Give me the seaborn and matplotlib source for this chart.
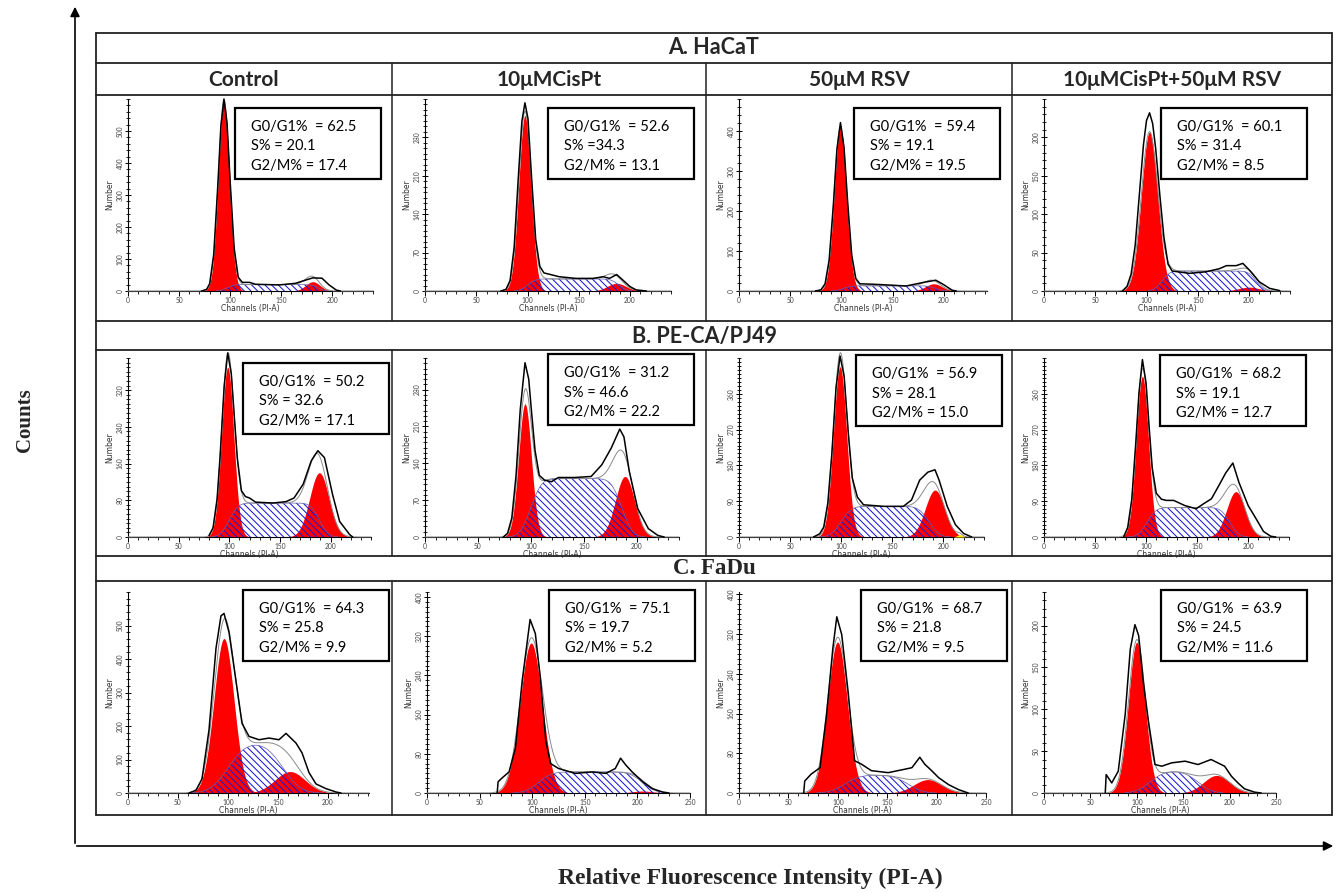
import math
import numpy as np
import matplotlib
matplotlib.use("Agg")
import matplotlib.pyplot as plt
from matplotlib.patches import Rectangle, FancyArrowPatch
from matplotlib.lines import Line2D
from matplotlib.ticker import MultipleLocator
import seaborn as sns

sns.set_theme(style="white")
plt.rcParams['font.family'] = ['Lato', 'DejaVu Sans']
plt.rcParams['hatch.linewidth'] = 0.75

W, H = 1339, 893

# ---------------- text content ----------------
ROW_TITLES = ["A. HaCaT", "B. PE-CA/PJ49", "C. FaDu"]
COL_TITLES = ["Control", "10\u03bcMCisPt", "50\u03bcM RSV", "10\u03bcMCisPt+50\u03bcM RSV"]
G0G1 = [62.5, 52.6, 59.4, 60.1, 50.2, 31.2, 56.9, 68.2, 64.3, 75.1, 68.7, 63.9]
S_PHASE = [20.1, 34.3, 19.1, 31.4, 32.6, 46.6, 28.1, 19.1, 25.8, 19.7, 21.8, 24.5]
S_SEP = [" = ", " =", " = ", " = ", " = ", " = ", " = ", " = ", " = ", " = ", " = ", " = "]
G2M = [17.4, 13.1, 19.5, 8.5, 17.1, 22.2, 15.0, 12.7, 9.9, 5.2, 9.5, 11.6]

# ---------------- ModFit components ----------------
G1_CENTER = [94, 97.5, 99, 103, 98.5, 94.5, 99, 96.4, 96, 99, 99.7, 100]
G1_HEIGHT = [592, 320, 408, 207, 370, 253, 428, 404, 461, 306, 304, 180]
G1_SIGMA = [5.5, 6, 6, 8, 6, 6, 6.5, 6, 10, 10.5, 10, 9]
S_HEIGHT = [20, 22, 13, 26, 74, 111, 77, 74, 150, 43, 36, 26]
S_START = [97, 100, 102, 115, 100, 100, 100, 101, 100, 106, 107, 114]
S_END = [186, 189, 192, 207, 189, 186, 186, 182, 155, 205, 171, 166]
S_EDGE = [5, 6, 6, 6, 7, 8, 8, 7, 14, 10, 12, 12]
G2_CENTER = [181, 187, 190, 200, 189, 189, 192, 188, 162, 205, 191, 186]
G2_HEIGHT = [29, 14, 18, 5, 140, 115, 118, 114, 64, 4, 27, 21]
G2_SIGMA = [7, 9, 8, 10, 9.5, 9, 9.5, 9, 15, 10, 14, 14]
AGG_CENTER = [0, 0, 0, 0, 0, 0, 216, 0, 0, 0, 0, 0]
AGG_HEIGHT = [0, 0, 0, 0, 0, 0, 6, 0, 0, 0, 0, 0]

# ---------------- measured histograms (channel, count) ----------------
DATA_X_A1 = [72, 77, 80, 84, 88, 91, 94, 97, 100, 104, 108, 112, 119, 125, 148, 164, 174, 181, 190, 197, 204, 208]
DATA_Y_A1 = [0, 5, 23, 115, 331, 516, 600, 526, 346, 134, 43, 27, 27, 21, 19, 24, 34, 41, 40, 19, 3, 0]
DATA_X_A2 = [74, 79, 83, 87, 91, 94.5, 97.5, 100.5, 104, 108, 112, 116, 131, 147, 164, 174, 180, 187, 193, 200, 206, 216]
DATA_Y_A2 = [0, 3, 19, 80, 206, 309, 343, 314, 206, 94, 45, 33, 26, 23, 23, 26, 23, 30, 20, 8, 2, 0]
DATA_X_A3 = [74.5, 80, 84, 88, 92, 95.5, 99, 102.5, 106, 110, 114, 118, 130, 146, 163, 179, 192, 199, 208, 212]
DATA_Y_A3 = [0, 3, 18, 78, 213, 353, 421, 359, 223, 90, 31, 18, 17, 15, 12.5, 21, 27, 17, 2, 0]
DATA_X_A4 = [76.5, 81, 85, 89, 93, 97, 100, 103, 106, 109, 113, 117, 121, 125, 142, 158, 171, 178, 187.5, 194, 200.5, 210, 220, 230]
DATA_Y_A4 = [0, 6, 22, 60, 125, 190, 222, 232, 218, 185, 125, 70, 35, 26, 23, 25, 29, 33, 33, 36, 27, 12, 3.5, 0.5]
DATA_X_B1 = [80, 84, 88, 91, 95, 98.5, 102, 105, 108, 112, 116, 120, 126, 143, 156, 164, 173, 181, 187.5, 194, 202, 209, 219, 222]
DATA_Y_B1 = [3, 20, 83, 177, 329, 401, 356, 262, 171, 101, 88, 85, 76, 74, 77, 85, 115, 166, 188, 173, 93, 34, 5, 0]
DATA_X_B2 = [74, 78, 82, 86, 90, 94.5, 98, 101, 104, 108, 113, 119.5, 126, 141.5, 157, 167, 176, 184, 188, 193, 201, 211, 220, 226]
DATA_Y_B2 = [0, 7, 36, 116, 242, 331, 300, 230, 164, 117, 108, 105, 113, 113, 115, 137, 169, 205, 190, 125, 54, 16, 3, 0]
DATA_X_B3 = [73, 79, 83, 87, 91, 95, 99, 103, 107, 111, 116, 122, 142, 161, 169, 177, 185, 192, 196, 204, 212, 220, 228]
DATA_Y_B3 = [0, 8, 25, 85, 211, 374, 455, 404, 263, 148, 100, 81, 77, 77, 93, 143, 163, 169, 143, 77, 31, 9, 0]
DATA_X_B4 = [78, 82, 86, 90, 93, 96.4, 100, 103, 106, 110, 115, 120, 127, 138, 149, 156, 164, 171, 178, 185, 191, 200, 207.5, 215, 222, 227]
DATA_Y_B4 = [0, 24, 95, 240, 361, 446, 387, 276, 174, 110, 95, 92, 92, 79, 71, 83, 96, 128, 161, 186, 137, 79, 47, 14, 2, 0]
DATA_X_C1 = [61, 68, 74, 81, 88, 93, 96, 101, 108, 114, 121, 131, 141, 151, 158, 168, 174, 181, 188, 198, 208, 213]
DATA_Y_C1 = [0, 8, 42, 188, 432, 529, 536, 480, 334, 208, 169, 159, 164, 159, 178, 149, 120, 61, 27, 13, 3, 0]
DATA_X_C2 = [66.7, 67.6, 71, 78, 84, 90.5, 95, 98, 103, 108, 113, 117.5, 125, 141, 157, 170, 179, 184, 189, 195, 205, 214, 224, 230]
DATA_Y_C2 = [0, 23, 30, 43, 91, 229, 304, 354, 325, 229, 105, 60, 50, 40, 43, 40, 50, 71, 57, 43, 23, 9, 2, 0]
DATA_X_C3 = [65.5, 66.5, 73, 82, 88.5, 95, 99, 104, 110.5, 117, 124, 134, 151, 168, 175, 183, 188, 195, 202, 212, 222, 232]
DATA_Y_C3 = [0, 24, 38, 51, 155, 292, 355, 319, 203, 65, 58, 45, 41, 48, 51, 72, 58, 45, 31, 17, 7, 0]
DATA_X_C4 = [66, 67, 73, 80, 87.5, 93, 98, 102, 107, 112.5, 119.6, 127, 137.5, 152, 166, 180, 194.6, 202, 209, 216, 227, 234]
DATA_Y_C4 = [0, 22, 12, 26, 94, 172, 201, 188, 133, 86, 34, 32, 36, 38, 34, 40, 32, 20, 12, 5, 1, 0]

DATA_X = [DATA_X_A1, DATA_X_A2, DATA_X_A3, DATA_X_A4, DATA_X_B1, DATA_X_B2,
          DATA_X_B3, DATA_X_B4, DATA_X_C1, DATA_X_C2, DATA_X_C3, DATA_X_C4]
DATA_Y = [DATA_Y_A1, DATA_Y_A2, DATA_Y_A3, DATA_Y_A4, DATA_Y_B1, DATA_Y_B2,
          DATA_Y_B3, DATA_Y_B4, DATA_Y_C1, DATA_Y_C2, DATA_Y_C3, DATA_Y_C4]

# ---------------- axis scales ----------------
X_MAX = [240, 240, 242, 240, 240, 240, 240, 240, 241, 250, 250, 250]
Y_MAX = [600, 350, 480, 250, 390, 340, 450, 450, 600, 410, 405, 240]
Y_STEP = [100, 70, 100, 50, 80, 70, 90, 90, 100, 80, 80, 50]
Y_MINOR = [20, 10, 20, 10, 10, 10, 10, 10, 20, 10, 10, 10]

# ---------------- layout (pixels) ----------------
AX_LEFT = [128, 425, 739, 1044, 128, 425, 739, 1044, 128, 427, 739, 1044]
AX_WIDTH = [245, 246, 248, 246, 243, 254, 245, 245, 241, 263, 247, 232]
ROW_AXIS_Y = [291, 537, 793]
ROW_TOP_Y = [99, 358, 592]
BOX_L = [235, 548, 854, 1161, 243, 548, 856, 1160, 243, 549, 861, 1161]
BOX_T = [108, 108, 108, 108, 363, 354, 355, 355, 590, 590, 590, 590]
BOX_W = 146
BOX_H = 71

RED = "#ff0000"
BLUE = "#1a1ad6"
HATCH = "\\\\\\\\\\"

_erf = np.vectorize(math.erf)


def gauss(x, c, h, s):
    return h * np.exp(-0.5 * ((x - c) / s) ** 2)


def plateau(x, h, a, b, e):
    return h * 0.5 * (_erf((x - a) / (math.sqrt(2) * e)) - _erf((x - b) / (math.sqrt(2) * e)))


def fx(x):
    return x / W


def fy(y):
    return 1 - y / H


fig = plt.figure(figsize=(W / 100, H / 100), dpi=100)
fig.patch.set_facecolor("white")

# ---------------- panels ----------------
for i in range(12):
    r, c = divmod(i, 4)
    bottom = ROW_AXIS_Y[r]
    top = ROW_TOP_Y[r]
    ax = fig.add_axes([fx(AX_LEFT[i]), fy(bottom), AX_WIDTH[i] / W, (bottom - top) / H])
    ax.set_facecolor("none")
    xs = np.linspace(0, X_MAX[i], 900)
    g1 = gauss(xs, G1_CENTER[i], G1_HEIGHT[i], G1_SIGMA[i])
    g2 = gauss(xs, G2_CENTER[i], G2_HEIGHT[i], G2_SIGMA[i])
    s = plateau(xs, S_HEIGHT[i], S_START[i], S_END[i], S_EDGE[i])
    agg = gauss(xs, AGG_CENTER[i], AGG_HEIGHT[i], 2.5) if AGG_HEIGHT[i] > 0 else np.zeros_like(xs)
    ax.fill_between(xs, 0, np.where(g1 > 0.3, g1, 0), color=RED, lw=0, zorder=2, clip_on=False)
    ax.fill_between(xs, 0, np.where(g2 > 0.3, g2, 0), color=RED, lw=0, zorder=2, clip_on=False)
    ax.fill_between(xs, 0, np.where(s > 0.3, s, 0), facecolor="none", edgecolor=BLUE,
                    hatch=HATCH, lw=0, zorder=3)
    ax.plot(xs[s > 0.3], s[s > 0.3], color="#6060b0", lw=0.5, zorder=3)
    if AGG_HEIGHT[i] > 0:
        ax.fill_between(xs, 0, np.where(agg > 0.2, agg, 0), color="#ffee00", lw=0, zorder=3)
    fit = g1 + g2 + s + agg
    sns.lineplot(x=xs, y=fit, ax=ax, color="#8a8a8a", lw=0.7, zorder=4,
                 estimator=None, sort=False, legend=False, clip_on=False)
    sns.lineplot(x=DATA_X[i], y=DATA_Y[i], ax=ax, color="black", lw=1.1, zorder=5,
                 estimator=None, sort=False, legend=False, clip_on=False)

    ax.set_xlim(0, X_MAX[i])
    ax.set_ylim(0, Y_MAX[i])
    ax.xaxis.set_minor_locator(MultipleLocator(10))
    ax.yaxis.set_minor_locator(MultipleLocator(Y_MINOR[i]))
    ax.set_xticks([t for t in range(0, int(X_MAX[i]) + 1, 50)])
    ax.set_yticks([t for t in range(0, int(Y_MAX[i]) + 1, Y_STEP[i]) if t <= Y_MAX[i] - 5])
    for side in ["top", "right"]:
        ax.spines[side].set_visible(False)
    for side in ["left", "bottom"]:
        ax.spines[side].set_linewidth(0.8)
        ax.spines[side].set_color("black")
    ax.tick_params(axis="x", which="major", direction="out", length=3.5, width=0.7,
                   labelsize=4.8, labelcolor="#444444", pad=1, color="black", bottom=True)
    ax.tick_params(axis="x", which="minor", direction="out", length=2.5, width=0.6,
                   color="black", bottom=True)
    ax.tick_params(axis="y", which="major", direction="inout", length=4, width=0.7,
                   labelsize=4.8, labelcolor="#444444", pad=1, labelrotation=90,
                   color="black", left=True)
    ax.tick_params(axis="y", which="minor", direction="inout", length=2.5, width=0.6,
                   color="black", left=True)
    for lab in ax.get_yticklabels():
        lab.set_va("center")
    ax.set_xlabel("Channels (PI-A)", fontsize=5.5, labelpad=0, color="#333333",
                  family=["DejaVu Sans"])
    ax.set_ylabel("Number", fontsize=5.5, labelpad=2, color="#333333",
                  family=["DejaVu Sans"])
    ax.grid(False)

    # statistics box
    bl, bt = BOX_L[i], BOX_T[i]
    fig.add_artist(Rectangle((fx(bl), fy(bt + BOX_H)), BOX_W / W, BOX_H / H,
                             transform=fig.transFigure, facecolor="white",
                             edgecolor="black", lw=1.6, zorder=10))
    lines = [f"G0/G1%  = {G0G1[i]:.1f}", f"S%{S_SEP[i]}{S_PHASE[i]:.1f}", f"G2/M% = {G2M[i]:.1f}"]
    for k, t in enumerate(lines):
        fig.text(fx(bl + 16), fy(bt + 19 + k * 19.5), t, fontsize=10.5, va="center",
                 ha="left", color="black", zorder=11, family=["Lato", "DejaVu Sans"])

# ---------------- table frame ----------------
FRAME_L, FRAME_R = 96, 1332
FRAME_T, FRAME_B = 33, 815
H_LINES = [33, 63, 95, 321, 350, 556, 581, 815]
V_LINES = [392, 706, 1012]
V_SPANS = [(63, 321), (350, 556), (581, 815)]
lc = "#222222"
for y in H_LINES:
    fig.add_artist(Line2D([fx(FRAME_L), fx(FRAME_R)], [fy(y), fy(y)], color=lc, lw=1.3,
                          transform=fig.transFigure))
for x in [FRAME_L, FRAME_R]:
    fig.add_artist(Line2D([fx(x), fx(x)], [fy(FRAME_T), fy(FRAME_B)], color=lc, lw=1.3,
                          transform=fig.transFigure))
for (y0, y1) in V_SPANS:
    for x in V_LINES:
        fig.add_artist(Line2D([fx(x), fx(x)], [fy(y0), fy(y1)], color=lc, lw=1.1,
                              transform=fig.transFigure))

# row titles
fig.text(fx(714), fy(48), ROW_TITLES[0], fontsize=15.5, fontweight="bold", ha="center",
         va="center", family=["Lato", "DejaVu Sans"])
fig.text(fx(704), fy(336), ROW_TITLES[1], fontsize=15.5, fontweight="bold", ha="center",
         va="center", family=["Lato", "DejaVu Sans"])
fig.text(fx(714), fy(569), ROW_TITLES[2], fontsize=16.5, fontweight="bold", ha="center",
         va="center", family=["Liberation Serif", "DejaVu Serif"])
# column headers
COL_CENTERS = [244, 549, 859, 1172]
for cx, t in zip(COL_CENTERS, COL_TITLES):
    fig.text(fx(cx), fy(80), t, fontsize=15, fontweight="bold", ha="center", va="center",
             family=["Lato", "DejaVu Sans"])

# outer arrows and labels
fig.add_artist(FancyArrowPatch((fx(75), fy(846)), (fx(75), fy(4)), transform=fig.transFigure,
                               arrowstyle="-|>", mutation_scale=14, lw=1.2, color="black"))
fig.add_artist(FancyArrowPatch((fx(74), fy(846)), (fx(1336), fy(846)), transform=fig.transFigure,
                               arrowstyle="-|>", mutation_scale=14, lw=1.2, color="black"))
fig.text(fx(25), fy(420), "Counts", rotation=90, fontsize=15, fontweight="bold",
         ha="center", va="center", family=["Liberation Serif", "DejaVu Serif"])
fig.text(fx(750), fy(878), "Relative Fluorescence Intensity (PI-A)", fontsize=17,
         fontweight="bold", ha="center", va="center",
         family=["Liberation Serif", "DejaVu Serif"])

fig.savefig("out.png", dpi=100, facecolor="white")
